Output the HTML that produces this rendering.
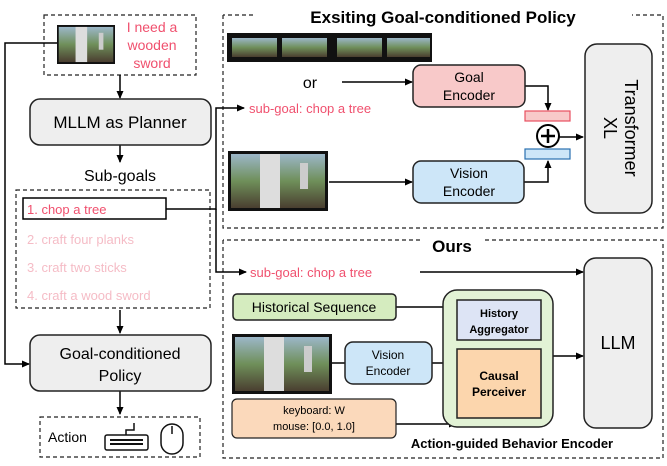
<!DOCTYPE html>
<html><head><meta charset="utf-8"><style>
body{margin:0;background:#fff}
svg text{font-family:"Liberation Sans",sans-serif}
</style></head><body>
<svg width="667" height="461" viewBox="0 0 667 461" xmlns="http://www.w3.org/2000/svg">
<defs>
<marker id="a" markerWidth="8" markerHeight="8" refX="7" refY="4" orient="auto" markerUnits="userSpaceOnUse"><path d="M0,0.5 L8,4 L0,7.5z" fill="#000"/></marker>
<linearGradient id="mc" x1="0" y1="0" x2="0" y2="1"><stop offset="0" stop-color="#9cb7c9"/><stop offset="0.5" stop-color="#6f8f5a"/><stop offset="1" stop-color="#4a3e30"/></linearGradient>
<g id="img"><rect width="100" height="60" fill="#111"/><rect x="3" y="3" width="94" height="54" fill="url(#mc)"/><rect x="32" y="3" width="20" height="54" fill="#ddd"/><rect x="72" y="12" width="8" height="26" fill="#ccc"/></g>
</defs>
<g fill="none" stroke="#222" stroke-width="1.2" stroke-dasharray="4,3">
<rect x="44" y="15" width="152" height="60"/>
<rect x="16" y="190" width="194" height="118"/>
<rect x="40" y="417" width="160" height="40"/>
<path d="M223,15 V228 H663 V15 H632 M253,15 H223"/>
<path d="M223,240 V458 H663 V240 H485 M420,240 H223"/>
</g>
<use href="#img" transform="translate(57,25) scale(0.58,0.65)"/>
<g fill="#f0506e" font-size="14" text-anchor="middle"><text x="152" y="32">I need a</text><text x="152" y="50">wooden</text><text x="152" y="68">sword</text></g>
<g stroke="#000" stroke-width="1.5" fill="none" marker-end="url(#a)">
<path d="M120,75 V98"/><path d="M120,145 V162"/><path d="M120,310 V333"/><path d="M120,391 V414"/>
<path d="M57,43 H5 V364 H29"/>
<path d="M166,209 H216 V108 H244"/>
<path d="M216,209 V272 H246"/>
<path d="M342,82 H412"/><path d="M329,182 H412"/>
<path d="M525,86 H548 V110"/><path d="M524,182 H548 V161"/>
<path d="M559,137 H583"/>
<path d="M420,272 H583"/>
<path d="M396,307 H456"/><path d="M332,363 H345" marker-end="none"/><path d="M432,363 H456"/><path d="M396,424 H456"/>
<path d="M553,356 H583"/>
</g>
<rect x="30" y="99" width="181" height="46" rx="10" fill="#eee" stroke="#222" stroke-width="1.5"/>
<text x="120" y="128" font-size="17" text-anchor="middle">MLLM as Planner</text>
<text x="120" y="181" font-size="16" text-anchor="middle">Sub-goals</text>
<rect x="23" y="198" width="143" height="21" fill="#fff" stroke="#000" stroke-width="1.5"/>
<text x="27" y="214" font-size="13" fill="#f0506e">1. chop a tree</text>
<g font-size="13" fill="#f5bcc6"><text x="27" y="244">2. craft four planks</text><text x="27" y="272">3. craft two sticks</text><text x="27" y="300">4. craft a wood sword</text></g>
<rect x="30" y="335" width="181" height="56" rx="10" fill="#eee" stroke="#222" stroke-width="1.5"/>
<text x="120" y="359" font-size="16" text-anchor="middle">Goal-conditioned</text>
<text x="120" y="381" font-size="16" text-anchor="middle">Policy</text>
<text x="48" y="442" font-size="14">Action</text>
<g stroke="#111" stroke-width="1.5" fill="none"><rect x="105" y="435" width="43" height="15" rx="2"/><path d="M126,435 V430 H134 V423"/><rect x="161" y="424" width="22" height="30" rx="11"/><path d="M172,426 V434"/></g>
<g fill="#111"><rect x="110" y="439" width="33" height="2"/><rect x="110" y="443" width="33" height="2"/></g>
<text x="443" y="23" font-size="17" font-weight="bold" text-anchor="middle">Exsiting Goal-conditioned Policy</text>
<rect x="227" y="33" width="205" height="29" fill="#111"/>
<g fill="url(#mc)"><rect x="232" y="38" width="45" height="19"/><rect x="282" y="38" width="45" height="19"/><rect x="337" y="38" width="45" height="19"/><rect x="387" y="38" width="43" height="19"/></g>
<text x="310" y="88" font-size="16" text-anchor="middle">or</text>
<rect x="413" y="65" width="112" height="42" rx="8" fill="#f8c9c9" stroke="#222" stroke-width="1.5"/>
<text x="469" y="82" font-size="14" text-anchor="middle">Goal</text><text x="469" y="100" font-size="14" text-anchor="middle">Encoder</text>
<text x="249" y="113" font-size="13" fill="#f0506e">sub-goal: chop a tree</text>
<use href="#img" transform="translate(228,151)"/>
<rect x="413" y="161" width="111" height="42" rx="8" fill="#cde6f8" stroke="#222" stroke-width="1.5"/>
<text x="469" y="178" font-size="14" text-anchor="middle">Vision</text><text x="469" y="196" font-size="14" text-anchor="middle">Encoder</text>
<rect x="525" y="111" width="45" height="10" fill="#f8c9c9" stroke="#e85060" stroke-width="1.2"/>
<rect x="525" y="149" width="45" height="10" fill="#cde6f8" stroke="#2a70b0" stroke-width="1.2"/>
<circle cx="548" cy="136" r="11" fill="#fff" stroke="#000" stroke-width="2"/>
<path d="M541,136 H555 M548,129 V143" stroke="#000" stroke-width="2.5"/>
<rect x="585" y="44" width="67" height="169" rx="12" fill="#eee" stroke="#222" stroke-width="1.5"/>
<text transform="translate(625,128) rotate(90)" font-size="18" text-anchor="middle">Transformer</text>
<text transform="translate(604,128) rotate(90)" font-size="18" text-anchor="middle">XL</text>
<text x="452" y="252" font-size="17" font-weight="bold" text-anchor="middle">Ours</text>
<text x="250" y="277" font-size="13" fill="#f0506e">sub-goal: chop a tree</text>
<rect x="584" y="258" width="68" height="170" rx="12" fill="#eee" stroke="#222" stroke-width="1.5"/>
<text x="618" y="349" font-size="18" text-anchor="middle">LLM</text>
<rect x="233" y="294" width="163" height="26" rx="4" fill="#d5ecbf" stroke="#222" stroke-width="1.5"/>
<text x="314" y="312" font-size="14" text-anchor="middle">Historical Sequence</text>
<rect x="443" y="290" width="110" height="137" rx="14" fill="#e2f2d5" stroke="#222" stroke-width="1.5"/>
<rect x="457" y="300" width="84" height="40" fill="#dde4f5" stroke="#222" stroke-width="1.5"/>
<text x="499" y="317" font-size="11" font-weight="bold" text-anchor="middle">History</text><text x="499" y="333" font-size="11" font-weight="bold" text-anchor="middle">Aggregator</text>
<rect x="457" y="349" width="84" height="69" fill="#fcd6ad" stroke="#222" stroke-width="1.5"/>
<text x="499" y="380" font-size="12" font-weight="bold" text-anchor="middle">Causal</text><text x="499" y="396" font-size="12" font-weight="bold" text-anchor="middle">Perceiver</text>
<use href="#img" transform="translate(232,334)"/>
<rect x="345" y="342" width="87" height="42" rx="8" fill="#cde6f8" stroke="#222" stroke-width="1.5"/>
<text x="388" y="359" font-size="12" text-anchor="middle">Vision</text><text x="388" y="375" font-size="12" text-anchor="middle">Encoder</text>
<rect x="232" y="399" width="164" height="39" rx="5" fill="#fbd9bb" stroke="#222" stroke-width="1.2"/>
<text x="314" y="414" font-size="11" text-anchor="middle">keyboard: W</text><text x="314" y="430" font-size="11" text-anchor="middle">mouse: [0.0, 1.0]</text>
<text x="512" y="448" font-size="13" font-weight="bold" text-anchor="middle">Action-guided Behavior Encoder</text>
</svg>
</body></html>
